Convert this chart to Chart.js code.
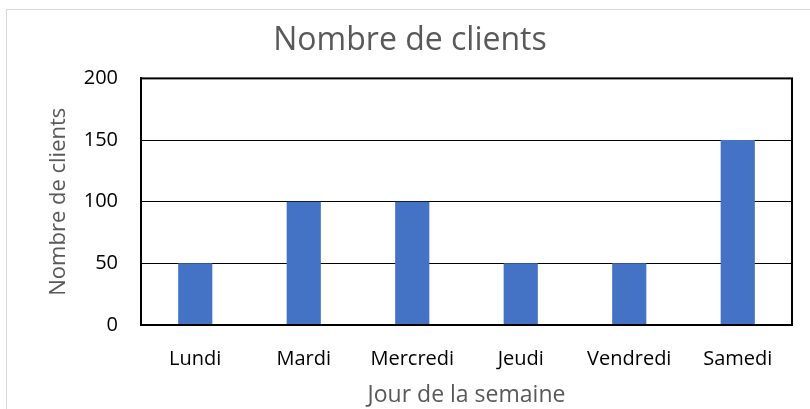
<!DOCTYPE html>
<html>
<head>
<meta charset="utf-8">
<script src="https://cdn.jsdelivr.net/npm/chart.js@4/dist/chart.umd.min.js"></script>
<style>
  html, body { margin: 0; padding: 0; background: #fff; overflow: hidden; }
  #frame { position: absolute; left: 6px; top: 9px; width: 820px; height: 420px; border: 1px solid #d9d9d9; }
  #wrap { position: absolute; left: 0; top: 0; width: 810px; height: 409px; overflow: hidden; }
</style>
</head>
<body>
<div id="frame"></div>
<div id="wrap"><canvas id="clientsChart" width="830" height="409"></canvas></div>
<script>
const days = ["Lundi", "Mardi", "Mercredi", "Jeudi", "Vendredi", "Samedi"];
const clients = [50, 100, 100, 50, 50, 150];
const yTicks = [0, 50, 100, 150, 200];

const fontFamily = "'Open Sans', 'DejaVu Sans', sans-serif";

// border around the plot area
const plotBorder = {
  id: "plotBorder",
  afterDraw(chart) {
    const { ctx, chartArea } = chart;
    ctx.save();
    ctx.strokeStyle = "#000000";
    ctx.lineWidth = 2;
    ctx.strokeRect(chartArea.left, chartArea.top, chartArea.right - chartArea.left, chartArea.bottom - chartArea.top);
    ctx.restore();
  },
};

new Chart(document.getElementById("clientsChart"), {
  type: "bar",
  data: {
    labels: days,
    datasets: [
      {
        label: "Nombre de clients",
        data: clients,
        backgroundColor: "#4472C4",
        borderWidth: 0,
        categoryPercentage: 1,
        barPercentage: 0.315,
      },
    ],
  },
  options: {
    responsive: false,
    animation: false,
    layout: { padding: { left: 0, right: 10, top: 0, bottom: 0 } },
    plugins: {
      legend: { display: false },
      tooltip: { enabled: false },
      title: {
        display: true,
        text: "Nombre de clients",
        color: "#595959",
        font: { family: fontFamily, size: 32, weight: "normal" },
        padding: { top: 22, bottom: 18 },
      },
    },
    scales: {
      y: {
        min: 0,
        max: 200,
        afterBuildTicks: (scale) => {
          scale.ticks = yTicks.map((v) => ({ value: v }));
        },
        afterFit: (scale) => {
          scale.width = 141;
        },
        grid: { color: "#000000", lineWidth: 1, drawTicks: false },
        border: { display: true, color: "#000000", width: 2 },
        ticks: {
          color: "#000000",
          padding: 23,
          font: { family: fontFamily, size: 20 },
        },
        title: {
          display: true,
          text: "Nombre de clients",
          color: "#595959",
          font: { family: fontFamily, size: 22 },
          padding: { top: 46 },
        },
      },
      // empty spacer on the right so the title centres like the original
      spacer: {
        type: "linear",
        position: "right",
        afterFit: (scale) => {
          scale.width = 28;
        },
        grid: { display: false },
        border: { display: false },
        ticks: { display: false },
      },
      x: {
        afterFit: (scale) => {
          scale.height = 84;
        },
        grid: { display: false, drawTicks: false },
        border: { display: true, color: "#000000", width: 2 },
        ticks: {
          color: "#000000",
          padding: 22,
          font: { family: fontFamily, size: 20 },
        },
        title: {
          display: true,
          text: "Jour de la semaine",
          color: "#595959",
          font: { family: fontFamily, size: 23 },
          padding: { top: 0, bottom: 0 },
        },
      },
    },
  },
  plugins: [plotBorder],
});
</script>
</body>
</html>
